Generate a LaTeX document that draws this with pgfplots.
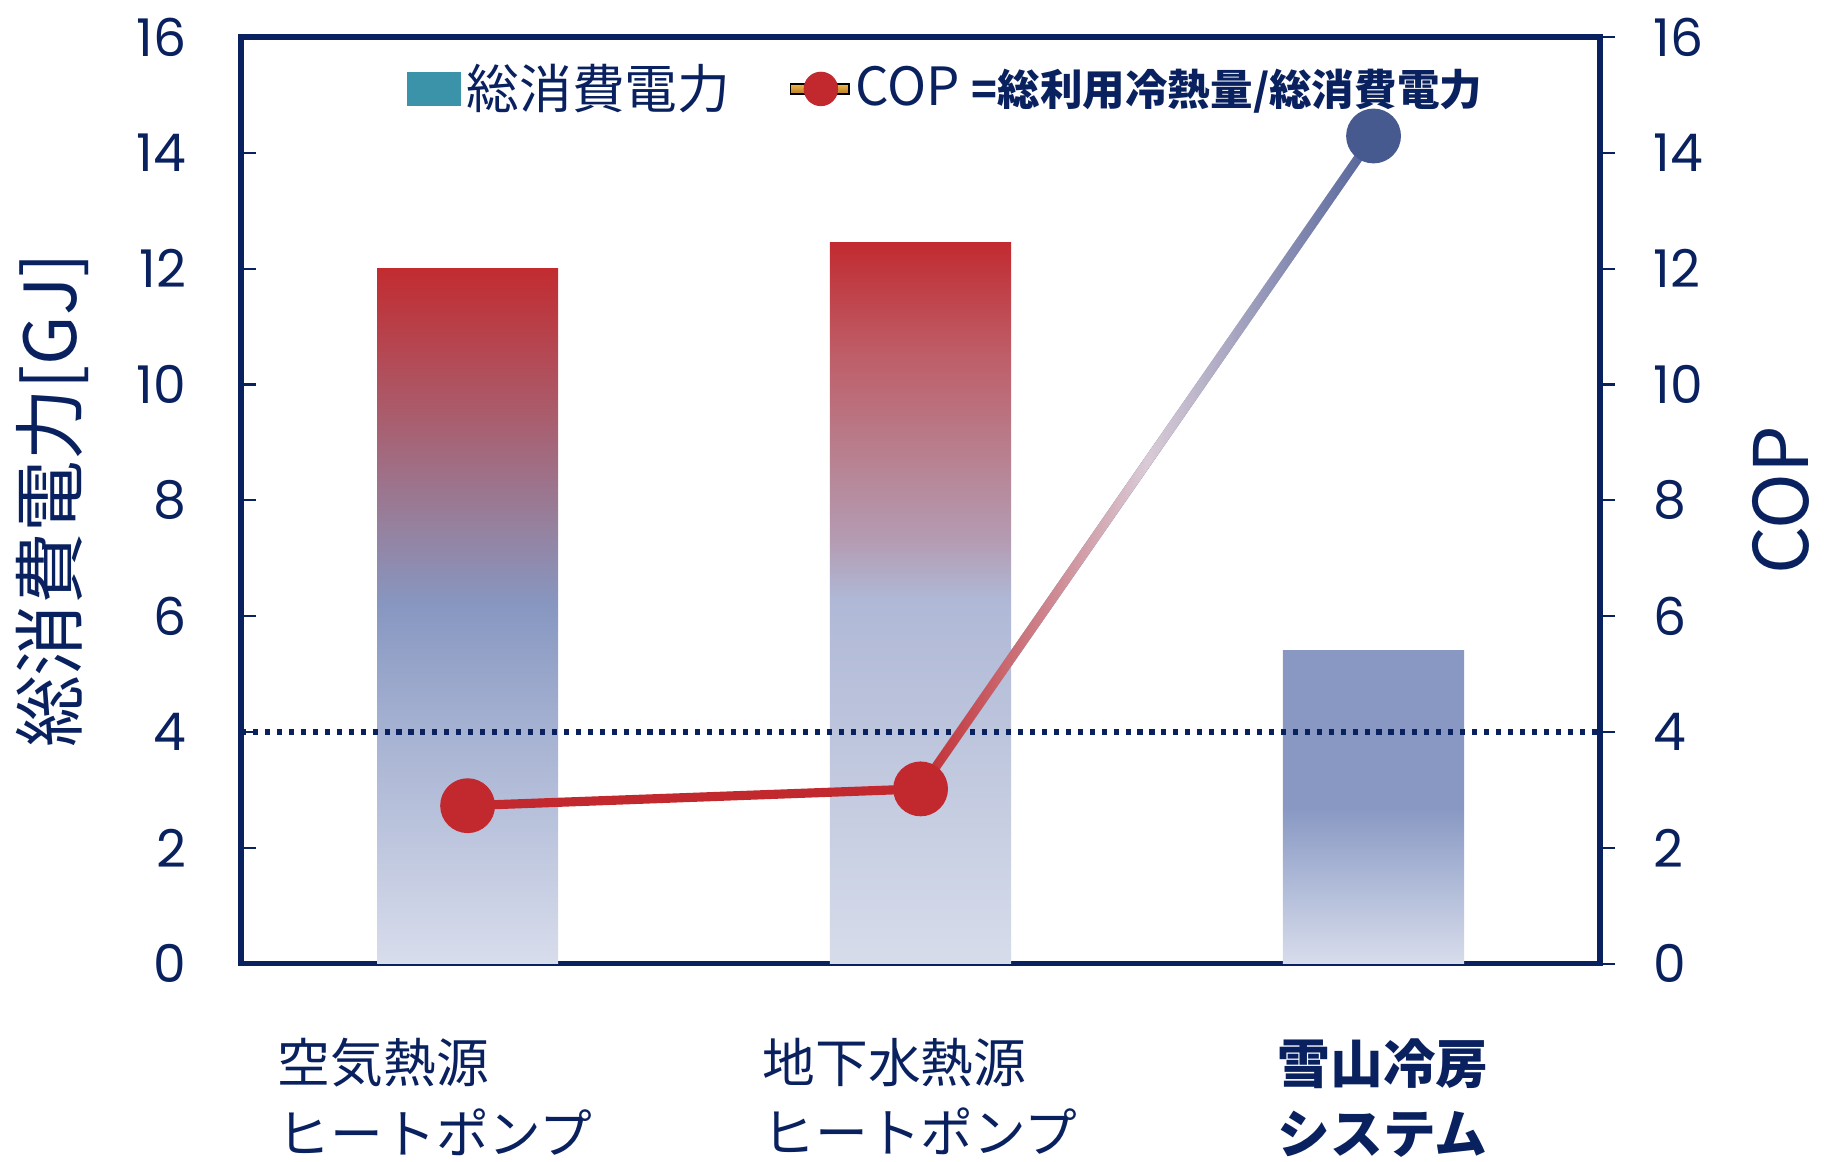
\documentclass[border=0pt]{standalone}
\usepackage{fontspec}
\setmainfont{Noto Sans CJK JP}
\newfontfamily\numfont{Poppins}
\usepackage{pgfplots}
\pgfplotsset{compat=1.18}
\usetikzlibrary{fadings}

\definecolor{axnavy}{HTML}{0A2160}
\definecolor{copred}{HTML}{C1292E}
\definecolor{copblue}{HTML}{4E6098}
\definecolor{copblueM}{HTML}{475A8F}
\definecolor{coplight}{HTML}{DCDEEA}
\definecolor{legteal}{HTML}{3A93A8}
\definecolor{legY}{HTML}{F0B840}
\definecolor{legO}{HTML}{B87A30}

\definecolor{bA0}{HTML}{D8DDEC}
\definecolor{bA1}{HTML}{A6B2D2}
\definecolor{bA2}{HTML}{8797C1}
\definecolor{bA3}{HTML}{9582A0}
\definecolor{bA4}{HTML}{AA5C6C}
\definecolor{bA5}{HTML}{C22C30}
\pgfdeclareverticalshading{barA}{100bp}{color(0bp)=(bA0); color(25bp)=(bA0); color(41.7bp)=(bA1); color(50.8bp)=(bA2); color(56.25bp)=(bA3); color(64.6bp)=(bA4); color(75bp)=(bA5); color(100bp)=(bA5)}

\definecolor{bB0}{HTML}{D6DCEA}
\definecolor{bB1}{HTML}{BDC5DD}
\definecolor{bB2}{HTML}{AFB8D6}
\definecolor{bB3}{HTML}{B49CB3}
\definecolor{bB4}{HTML}{B8808F}
\definecolor{bB5}{HTML}{BE5E68}
\definecolor{bB6}{HTML}{C12B30}
\pgfdeclareverticalshading{barB}{100bp}{color(0bp)=(bB0); color(25bp)=(bB0); color(41.1bp)=(bB1); color(50.3bp)=(bB2); color(54.3bp)=(bB3); color(60.3bp)=(bB4); color(67.2bp)=(bB5); color(75bp)=(bB6); color(100bp)=(bB6)}

\definecolor{bC0}{HTML}{D8DDEC}
\definecolor{bC1}{HTML}{B0BBD8}
\definecolor{bC2}{HTML}{8898C3}
\pgfdeclareverticalshading{barC}{100bp}{color(0bp)=(bC0); color(25bp)=(bC0); color(37.5bp)=(bC1); color(50bp)=(bC2); color(75bp)=(bC2); color(100bp)=(bC2)}

\tikzfading[name=redfade, left color=transparent!0, right color=transparent!100, middle color=transparent!90]
\tikzfading[name=lightfade, left color=transparent!0, right color=transparent!100, middle color=transparent!0]

\begin{document}
\begin{tikzpicture}
\useasboundingbox (-68.6pt,-56.3pt) rectangle (450.6pt,274.2pt);
\begin{axis}[
  width=386.6pt, height=263.7pt, scale only axis,
  xmin=-0.5, xmax=2.5, ymin=0, ymax=16,
  xtick=\empty, ytick={0,2,...,16},
  ytick pos=left, tick align=inside,
  major tick length=4.3pt,
  axis line style={axnavy, line width=1.5pt},
  tick style={axnavy, line width=0.6pt},
  /pgf/number format/assume math mode=true,
  yticklabel style={font=\numfont\fontsize{14.8}{14.8}\selectfont, text=axnavy, inner sep=0pt, anchor=east, xshift=-15.4pt},
  ylabel={総消費電力[GJ]},
  ylabel style={at={(rel axis cs:-0.139,0.5)}, anchor=center, rotate=0, font=\fontsize{20.4}{21}\selectfont, text=axnavy},
  clip=false,
  legend columns=2,
  legend cell align=left,
  legend style={draw=none, fill=none, at={(rel axis cs:0.1222,0.9439)}, anchor=west,
    font=\fontsize{15}{15}\selectfont, text=axnavy, inner sep=0pt, outer sep=0pt,
    nodes={inner sep=0pt},
    /tikz/every odd column/.append style={column sep=1.7pt},
    /tikz/every even column/.append style={column sep=17pt}},
]
\addlegendimage{legend image code/.code={\fill[legteal] (0pt,-4.7pt) rectangle (14.8pt,4.7pt);}}
\addlegendentry{総消費電力}
\addlegendimage{legend image code/.code={\shade[top color=legY, bottom color=legO] (0pt,-1.4pt) rectangle (16.6pt,1.4pt); \fill[copred] (8.6pt,0pt) circle (4.7pt);}}
\addlegendentry{COP {\bfseries\fontsize{12.1}{12.1}\selectfont =総利用冷熱量/総消費電力}}

% bars: 総消費電力 [GJ]
\addplot[ybar, bar width=0.4, bar shift=0pt, draw=none, shade, shading=barA, forget plot] coordinates {(0,12.0)};
\addplot[ybar, bar width=0.4, bar shift=0pt, draw=none, shade, shading=barB, forget plot] coordinates {(1,12.45)};
\addplot[ybar, bar width=0.4, bar shift=0pt, draw=none, shade, shading=barC, forget plot] coordinates {(2,5.41)};

% reference line
\addplot[axnavy, line width=1.6pt, dash pattern=on 1.45pt off 1.95pt, forget plot] coordinates {(-0.5,4) (2.5,4)};

% COP line
\addplot[copred, line width=2.6pt, forget plot] coordinates {(0,2.73) (1,3.02)};
\addplot[copblue, line width=2.6pt, forget plot] coordinates {(1,3.02) (2,14.29)};
\addplot[coplight, line width=2.6pt, path fading=lightfade, forget plot] coordinates {(1,3.02) (2,14.29)};
\addplot[copred, line width=2.6pt, path fading=redfade, forget plot] coordinates {(1,3.02) (2,14.29)};
\addplot[copred, only marks, mark=*, mark size=7.6pt, mark options={fill=copred, draw=copred}, forget plot] coordinates {(0,2.73) (1,3.02)};
\addplot[copblueM, only marks, mark=*, mark size=7.6pt, mark options={fill=copblueM, draw=copblueM}, forget plot] coordinates {(2,14.29)};

% category labels
\node[anchor=north west, align=left, font=\fontsize{15}{20}\selectfont, text=axnavy, inner sep=0pt] at (axis cs:-0.4205,0) [yshift=-21pt] {空気熱源\\ヒートポンプ};
\node[anchor=north west, align=left, font=\fontsize{15}{20}\selectfont, text=axnavy, inner sep=0pt] at (axis cs:0.650,0) [yshift=-21pt] {地下水熱源\\ヒートポンプ};
\node[anchor=north west, align=left, font=\bfseries\fontsize{15}{20}\selectfont, text=axnavy, inner sep=0pt] at (axis cs:1.787,0) [yshift=-21pt] {雪山冷房\\システム};
\end{axis}
\begin{axis}[
  width=386.6pt, height=263.7pt, scale only axis,
  xmin=-0.5, xmax=2.5, ymin=0, ymax=16,
  axis x line=none, axis y line*=right,
  xtick=\empty, ytick={0,2,...,16},
  tick align=outside, major tick length=4.3pt,
  axis line style={axnavy, line width=1.5pt},
  tick style={axnavy, line width=0.6pt},
  /pgf/number format/assume math mode=true,
  yticklabel style={font=\numfont\fontsize{14.8}{14.8}\selectfont, text=axnavy, inner sep=0pt, anchor=west, xshift=10.7pt},
  ylabel={COP},
  ylabel style={at={(rel axis cs:1.1332,0.5)}, anchor=center, rotate=0, font=\fontsize{21.4}{22}\selectfont, text=axnavy},
]
\addplot[draw=none, forget plot] coordinates {(0,0)};
\end{axis}
\end{tikzpicture}
\end{document}
